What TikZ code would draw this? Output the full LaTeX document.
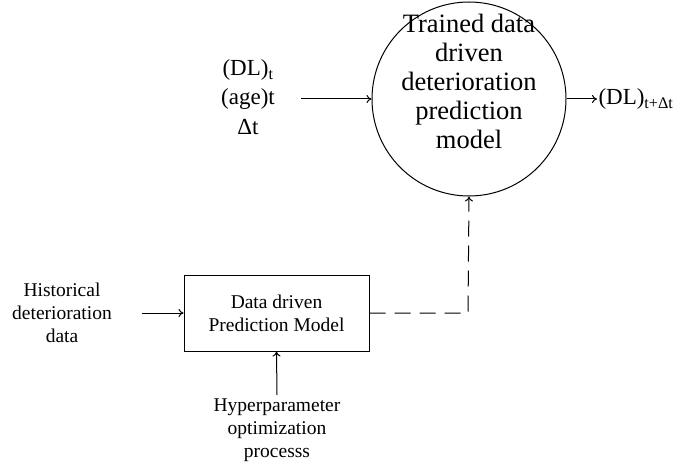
\documentclass[tikz,border=0pt]{standalone}
\usepackage{fontspec}
\setmainfont{Liberation Serif}
\usetikzlibrary{arrows.meta}
\begin{document}
\begin{tikzpicture}[x=1pt,y=-1pt,
  line width=1pt,
  arrow/.style={-{To[length=5pt,width=8pt]}},
  bigtext/.style={font=\fontsize{26.5}{29}\selectfont, align=center},
  midtext/.style={font=\fontsize{23}{28}\selectfont, align=center},
  smalltext/.style={font=\fontsize{19.5}{23}\selectfont, align=center},
  model/.style={draw, circle, minimum size=194pt, inner sep=0pt},
  stepbox/.style={draw, rectangle, minimum width=185pt, minimum height=76pt, inner sep=0pt}]
  \useasboundingbox (0,0) rectangle (696,465);

  % trained prediction model
  \node[model] (trained) at (469,99) {};
  \node[bigtext] (trainedtxt) at (469,81) {Trained data\\driven\\deterioration\\prediction\\model};

  % current-state inputs
  \node[midtext] (dl) at (248,70) {(DL)\textsubscript{t}};
  \node[midtext] (age) at (248,99) {(age)t};
  \node[midtext] (dt) at (248,127) {Δt};
  \coordinate (instart) at (301,99);
  \draw[arrow] (instart) -- (trained.west);

  % predicted output
  \node[midtext, anchor=west, inner sep=1pt] (out) at (597,99) {(DL)\textsubscript{t+Δt}};
  \draw[arrow] (trained.east) -- (out.west);

  % training model
  \node[stepbox] (dd) at (276.5,313) {};
  \node[smalltext] (ddtxt) at (276.5,313) {Data driven\\Prediction Model};

  \node[smalltext] (hist) at (62,313) {Historical\\deterioration\\data};
  \coordinate (histend) at (142,313);
  \draw[arrow] (histend) -- (dd.west);

  \node[smalltext] (hyper) at (277,430) {Hyperparameter\\optimization\\processs};
  \coordinate (hyperstart) at (277,395);
  \draw[arrow] (hyperstart) -- (dd.south);

  % trained model handed over
  \coordinate (bend) at (468,313);
  \draw[arrow, dash pattern=on 16pt off 9pt] (dd.east) -- (bend) -- (trained.south);
\end{tikzpicture}
\end{document}
